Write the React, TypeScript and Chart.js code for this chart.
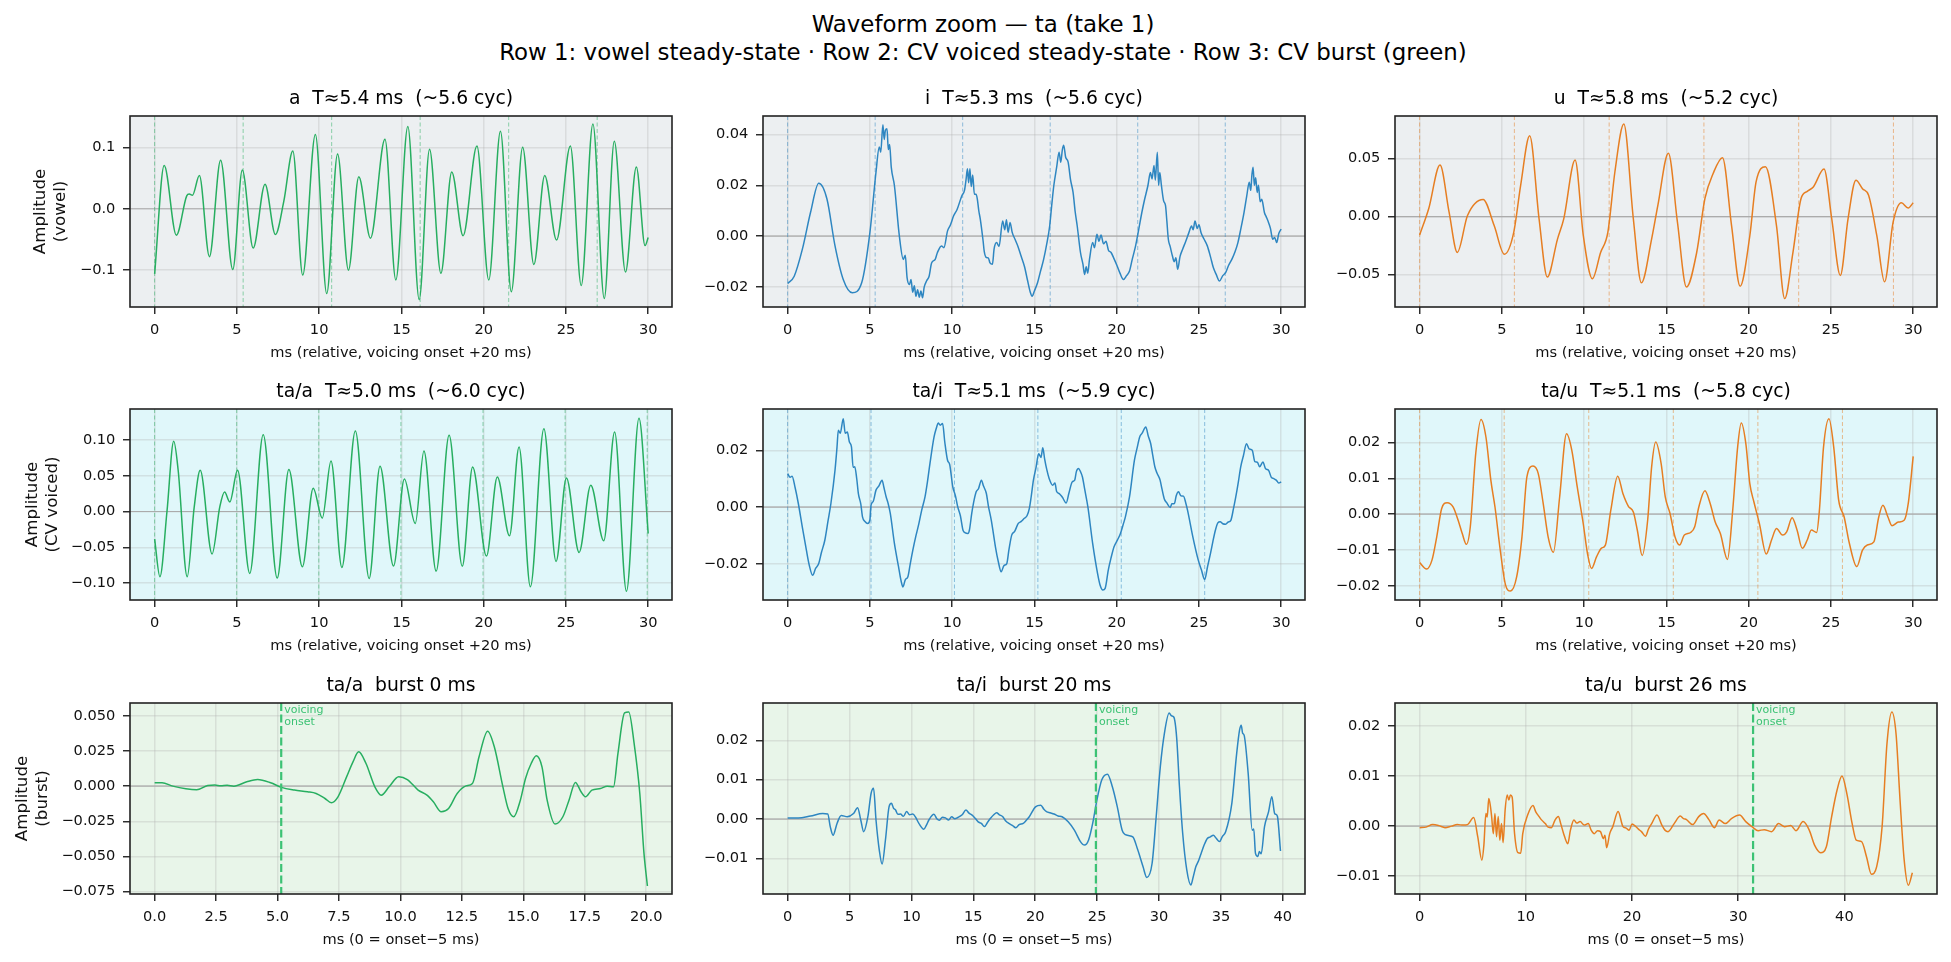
import React, { useEffect, useRef } from "react";
import { Chart, registerables } from "chart.js";

Chart.register(...registerables);

type Pt = [number, number];

const FONT = "'DejaVu Sans', 'Liberation Sans', sans-serif";
Chart.defaults.font.family = FONT;

// ---- waveform samples: [ms, amplitude] ----
const vowelA: Pt[] = [
  [0, -0.106], [0.58, 0.0705], [1.32, -0.043], [1.95, 0.021], [2.1, 0.024], [2.3, 0.022], [2.72, 0.054],
  [3.33, -0.078], [4.01, 0.079], [4.75, -0.099], [5.33, 0.063], [5.99, -0.064], [6.71, 0.04], [7.34, -0.042],
  [7.85, 0.012], [8.4, 0.094], [9.0, -0.108], [9.77, 0.121], [10.46, -0.138], [11.12, 0.089], [11.78, -0.1],
  [12.41, 0.052], [13.12, -0.048], [14.0, 0.113], [14.66, -0.116], [15.39, 0.134], [16.08, -0.148],
  [16.71, 0.097], [17.4, -0.105], [18.06, 0.06], [18.75, -0.044], [19.59, 0.102], [20.31, -0.116],
  [21.02, 0.126], [21.68, -0.135], [22.37, 0.1], [23.05, -0.091], [23.71, 0.054], [24.43, -0.051],
  [25.27, 0.102], [25.93, -0.125], [26.64, 0.138], [27.33, -0.146], [27.94, 0.11], [28.62, -0.103],
  [29.28, 0.068], [29.81, -0.06], [30.0, -0.047],
];

const vowelI: Pt[] = [
  [0, -0.0186], [0.4, -0.0157], [0.9, -0.005], [1.39, 0.0093], [1.89, 0.0208], [2.39, 0.0146], [2.88, -0.0038],
  [3.38, -0.017], [3.93, -0.0222], [4.5, -0.0183], [5.0, 0.0014], [5.37, 0.0251], [5.57, 0.035], [5.66, 0.033],
  [5.79, 0.0438], [5.87, 0.038], [5.94, 0.0415], [6.04, 0.0422], [6.12, 0.034], [6.2, 0.036], [6.3, 0.027],
  [6.49, 0.0199], [6.79, 0.0001], [7.03, -0.0091], [7.15, -0.0075], [7.26, -0.0163], [7.4, -0.019],
  [7.5, -0.017], [7.6, -0.022], [7.7, -0.0195], [7.8, -0.0236], [7.9, -0.021], [8.0, -0.024], [8.1, -0.0215],
  [8.2, -0.0242], [8.3, -0.02], [8.45, -0.0175], [8.6, -0.0157], [8.75, -0.0105], [8.97, -0.0091],
  [9.1, -0.0065], [9.35, -0.0038], [9.5, -0.0045], [9.72, 0.0021], [9.9, 0.0045], [10.09, 0.008],
  [10.3, 0.0105], [10.59, 0.0159], [10.75, 0.018], [10.85, 0.0225], [10.93, 0.0265], [11.0, 0.021],
  [11.08, 0.0265], [11.16, 0.0195], [11.25, 0.024], [11.35, 0.0165], [11.45, 0.0165], [11.53, 0.0146],
  [11.62, 0.01], [11.71, 0.0067], [11.88, -0.0018], [11.95, -0.006], [12.08, -0.0084], [12.2, -0.0085],
  [12.3, -0.0105], [12.45, -0.011], [12.55, -0.005], [12.7, -0.0025], [12.85, -0.004], [13.07, 0.006],
  [13.2, 0.0025], [13.3, 0.0065], [13.4, 0.0015], [13.52, 0.0054], [13.65, 0.0015], [13.82, -0.0012],
  [14.0, -0.004], [14.19, -0.0078], [14.4, -0.012], [14.57, -0.017], [14.75, -0.022], [14.86, -0.0236],
  [15.0, -0.0215], [15.19, -0.0183], [15.36, -0.014], [15.56, -0.0091], [15.75, -0.003], [15.93, 0.0041],
  [16.05, 0.012], [16.18, 0.0199], [16.35, 0.027], [16.5, 0.033], [16.6, 0.029], [16.7, 0.034],
  [16.78, 0.0357], [16.9, 0.031], [17.05, 0.0291], [17.2, 0.022], [17.35, 0.0172], [17.48, 0.0095],
  [17.6, 0.0041], [17.8, -0.0064], [17.95, -0.011], [18.05, -0.015], [18.15, -0.012], [18.24, -0.0145],
  [18.35, -0.009], [18.54, -0.0025], [18.65, -0.0045], [18.8, 0.0008], [18.92, -0.002], [19.05, 0.0005],
  [19.2, -0.003], [19.35, -0.002], [19.5, -0.0055], [19.66, -0.0064], [19.85, -0.009], [20.03, -0.0117],
  [20.2, -0.0145], [20.41, -0.017], [20.6, -0.0155], [20.78, -0.0137], [20.95, -0.009], [21.15, -0.0038],
  [21.35, 0.003], [21.53, 0.0093], [21.7, 0.0145], [21.9, 0.0199], [22.05, 0.025], [22.15, 0.0225],
  [22.27, 0.0278], [22.35, 0.022], [22.47, 0.033], [22.55, 0.02], [22.62, 0.025], [22.72, 0.0199],
  [22.85, 0.014], [22.97, 0.012], [23.05, 0.006], [23.14, -0.0012], [23.25, -0.004], [23.39, -0.0078],
  [23.5, -0.01], [23.6, -0.0085], [23.71, -0.013], [23.85, -0.008], [24.01, -0.0051], [24.2, -0.002],
  [24.39, 0.0014], [24.55, 0.004], [24.65, 0.0025], [24.76, 0.006], [24.9, 0.003], [25.0, 0.0045],
  [25.13, 0.0014], [25.3, -0.001], [25.51, -0.0038], [25.7, -0.008], [25.88, -0.0124], [26.05, -0.015],
  [26.25, -0.0176], [26.45, -0.0155], [26.62, -0.0143], [26.8, -0.0115], [27.0, -0.0091], [27.2, -0.006],
  [27.37, -0.0025], [27.55, 0.003], [27.74, 0.0093], [27.9, 0.0155], [28.06, 0.0212], [28.15, 0.018],
  [28.22, 0.024], [28.29, 0.0271], [28.37, 0.02], [28.45, 0.023], [28.54, 0.0172], [28.62, 0.02],
  [28.72, 0.0135], [28.82, 0.0145], [28.98, 0.0093], [29.1, 0.0075], [29.23, 0.0054], [29.35, 0.003],
  [29.48, -0.0012], [29.6, -0.0005], [29.73, -0.0025], [29.85, 0.001], [30.0, 0.0028],
];

const vowelU: Pt[] = [
  [0, -0.016], [0.55, 0.0067], [1.24, 0.0445], [1.79, 0.0038], [2.29, -0.031], [2.91, 0.0009], [3.86, 0.0148],
  [4.53, -0.0078], [5.15, -0.0326], [5.72, -0.0137], [6.14, 0.027], [6.69, 0.0698], [7.26, -0.002],
  [7.76, -0.0523], [8.38, -0.0195], [8.76, -0.002], [9.45, 0.0488], [9.95, -0.0166], [10.5, -0.0538],
  [11.0, -0.0311], [11.44, -0.0137], [11.87, 0.0387], [12.41, 0.0799], [12.99, -0.002], [13.48, -0.0573],
  [14.1, -0.0195], [14.48, 0.0096], [15.12, 0.0547], [15.67, -0.0049], [16.22, -0.061], [16.84, -0.0311],
  [17.34, 0.0154], [17.84, 0.0372], [18.41, 0.0509], [18.96, -0.0078], [19.48, -0.0602], [20.07, -0.0166],
  [20.45, 0.0299], [21.02, 0.043], [21.69, -0.0078], [22.19, -0.0709], [22.69, -0.0311], [23.18, 0.0154],
  [23.56, 0.0218], [23.93, 0.0256], [24.58, 0.041], [25.05, -0.002], [25.57, -0.0509], [26.04, -0.002],
  [26.52, 0.0314], [26.92, 0.0241], [27.29, 0.0183], [27.79, -0.0166], [28.26, -0.0564], [28.78, -0.0049],
  [29.28, 0.0119], [29.7, 0.0073], [30.0, 0.0119],
];

const cvA: Pt[] = [
  [0, -0.0386], [0.32, -0.0912], [0.75, 0.0], [1.16, 0.0981], [1.43, 0.0577], [1.98, -0.0912], [2.4, 0.005],
  [2.77, 0.0577], [3.49, -0.0595], [3.96, 0.0065], [4.25, 0.0274], [4.57, 0.0135], [5.04, 0.0577],
  [5.78, -0.0865], [6.6, 0.1074], [7.45, -0.093], [8.16, 0.0586], [8.98, -0.0772], [9.64, 0.0326],
  [10.19, -0.0093], [10.72, 0.0707], [11.38, -0.0781], [12.2, 0.1126], [13.04, -0.0935], [13.7, 0.0633],
  [14.52, -0.0763], [15.18, 0.0456], [15.84, -0.0167], [16.37, 0.0847], [17.11, -0.0833], [17.9, 0.1065],
  [18.7, -0.0763], [19.33, 0.0623], [20.17, -0.0623], [20.83, 0.0484], [21.57, -0.034], [22.15, 0.0902],
  [22.84, -0.1051], [23.66, 0.1158], [24.4, -0.0698], [25.03, 0.047], [25.8, -0.0572], [26.51, 0.0367],
  [27.3, -0.0409], [27.96, 0.1112], [28.68, -0.1116], [29.44, 0.1302], [30.0, -0.0307],
];

const cvI: Pt[] = [
  [0, 0.0118], [0.15, 0.0105], [0.27, 0.0109], [0.45, 0.007], [0.65, 0.0013], [0.89, -0.0069],
  [1.14, -0.0151], [1.3, -0.02], [1.52, -0.0239], [1.7, -0.0215], [1.89, -0.0198], [2.05, -0.016],
  [2.26, -0.0116], [2.45, -0.005], [2.63, 0.0013], [2.88, 0.013], [3.0, 0.021], [3.08, 0.027], [3.2, 0.026],
  [3.38, 0.0311], [3.5, 0.026], [3.63, 0.0264], [3.75, 0.023], [3.88, 0.0212], [3.98, 0.014], [4.08, 0.0142],
  [4.2, 0.01], [4.3, 0.0048], [4.45, 0.001], [4.55, -0.0034], [4.7, -0.005], [4.87, -0.0057], [5.0, -0.0045],
  [5.07, 0.0007], [5.2, 0.002], [5.37, 0.006], [5.55, 0.0075], [5.74, 0.0095], [5.85, 0.007], [5.99, 0.0036],
  [6.1, 0.0015], [6.24, -0.0022], [6.49, -0.0127], [6.74, -0.0209], [6.9, -0.026], [7.01, -0.028],
  [7.15, -0.0255], [7.31, -0.0244], [7.45, -0.02], [7.61, -0.0151], [7.8, -0.01], [7.98, -0.0057],
  [8.15, -0.001], [8.35, 0.0036], [8.5, 0.009], [8.65, 0.0153], [8.9, 0.0247], [9.05, 0.028],
  [9.15, 0.0296], [9.28, 0.0288], [9.42, 0.0294], [9.55, 0.023], [9.72, 0.0165], [9.85, 0.015],
  [10.04, 0.0071], [10.2, 0.004], [10.34, 0.0001], [10.5, -0.003], [10.66, -0.0081], [10.8, -0.009],
  [10.96, -0.0092], [11.05, -0.008], [11.19, -0.0022], [11.3, 0.0015], [11.46, 0.0054], [11.6, 0.0065],
  [11.78, 0.0095], [11.9, 0.0075], [12.08, 0.0048], [12.2, 0.0005], [12.38, -0.0046], [12.5, -0.009],
  [12.63, -0.0139], [12.8, -0.019], [12.98, -0.0227], [13.15, -0.0205], [13.32, -0.0198], [13.45, -0.015],
  [13.62, -0.0098], [13.8, -0.0085], [14.02, -0.0057], [14.2, -0.005], [14.37, -0.004], [14.55, -0.003],
  [14.69, -0.0005], [14.8, 0.0035], [14.94, 0.0095], [15.1, 0.014], [15.26, 0.0188], [15.4, 0.0175],
  [15.51, 0.0209], [15.62, 0.017], [15.76, 0.013], [15.9, 0.01], [16.11, 0.0077], [16.25, 0.0085],
  [16.35, 0.0055], [16.51, 0.0048], [16.7, 0.0035], [16.93, 0.0015], [17.1, 0.005], [17.3, 0.0089],
  [17.45, 0.0095], [17.55, 0.0125], [17.68, 0.0136], [17.8, 0.0125], [17.92, 0.0106], [18.05, 0.0065],
  [18.25, 0.0001], [18.54, -0.0127], [18.84, -0.0233], [19.0, -0.0275], [19.16, -0.0291], [19.3, -0.0285],
  [19.49, -0.0221], [19.65, -0.018], [19.84, -0.0139], [20.05, -0.0115], [20.23, -0.0092], [20.4, -0.006],
  [20.53, -0.0034], [20.78, 0.0036], [21.08, 0.0165], [21.25, 0.021], [21.4, 0.0247], [21.55, 0.026],
  [21.77, 0.0282], [21.92, 0.025], [22.07, 0.0223], [22.2, 0.018], [22.32, 0.0142], [22.45, 0.012],
  [22.64, 0.0095], [22.75, 0.0065], [22.89, 0.003], [23.05, 0.0015], [23.26, -0.0001], [23.35, 0.0012],
  [23.51, 0.0013], [23.62, 0.004], [23.76, 0.0054], [23.9, 0.004], [24.06, 0.0039], [24.2, 0.0015],
  [24.31, -0.0011], [24.63, -0.0104], [24.96, -0.0186], [25.15, -0.022], [25.35, -0.0254],
  [25.52, -0.021], [25.7, -0.0163], [25.85, -0.012], [26.0, -0.0081], [26.15, -0.0055], [26.29, -0.0051],
  [26.45, -0.0058], [26.62, -0.006], [26.78, -0.0052], [26.94, -0.0046], [27.1, -0.0005], [27.24, 0.0036],
  [27.4, 0.009], [27.54, 0.0142], [27.7, 0.018], [27.89, 0.0223], [28.05, 0.0205], [28.24, 0.02],
  [28.4, 0.016], [28.55, 0.0158], [28.69, 0.0142], [28.89, 0.0159], [29.05, 0.0135], [29.23, 0.013],
  [29.4, 0.0105], [29.53, 0.0101], [29.7, 0.0095], [29.85, 0.0085], [30.0, 0.0089],
];

const cvU: Pt[] = [
  [0, -0.0135], [0.42, -0.0153], [0.75, -0.0128], [1.04, -0.0063], [1.34, 0.0016], [1.67, 0.0032],
  [2.04, 0.002], [2.34, -0.0017], [2.59, -0.0054], [2.84, -0.0084], [3.08, -0.0035], [3.41, 0.0169],
  [3.73, 0.0264], [4.03, 0.0215], [4.33, 0.0094], [4.58, 0.002], [4.9, -0.01], [5.22, -0.0197],
  [5.52, -0.0214], [5.9, -0.0174], [6.22, -0.0063], [6.52, 0.0104], [6.89, 0.0134], [7.21, 0.0113],
  [7.51, 0.003], [7.81, -0.0063], [8.13, -0.0106], [8.51, 0.0048], [8.93, 0.0224], [9.25, 0.0178],
  [9.58, 0.0076], [9.95, -0.0028], [10.2, -0.0109], [10.45, -0.0151], [10.75, -0.0119], [11.04, -0.0095],
  [11.29, -0.0086], [11.62, 0.0011], [12.04, 0.0106], [12.36, 0.0057], [12.69, 0.0022], [12.99, 0.0006],
  [13.23, -0.0044], [13.53, -0.0115], [13.86, -0.0017], [14.1, 0.0131], [14.35, 0.0201], [14.68, 0.0141],
  [14.93, 0.0048], [15.22, 0.0002], [15.52, -0.0063], [15.8, -0.0086], [16.09, -0.0058], [16.47, -0.0051],
  [16.72, -0.0035], [16.97, 0.002], [17.34, 0.0065], [17.66, 0.003], [17.96, -0.0021], [18.28, -0.0054],
  [18.71, -0.0126], [19.03, 0.0011], [19.33, 0.0187], [19.55, 0.0254], [19.83, 0.0196], [20.07, 0.0085],
  [20.32, 0.0034], [20.65, -0.0026], [21.07, -0.0111], [21.39, -0.0072], [21.69, -0.004], [22.06, -0.0058],
  [22.31, -0.0049], [22.64, -0.001], [22.94, -0.0044], [23.26, -0.0095], [23.56, -0.0072], [23.81, -0.0044],
  [24.13, -0.0051], [24.3, 0.0011], [24.55, 0.0187], [24.88, 0.0266], [25.17, 0.0187], [25.47, 0.0039],
  [25.8, -0.0007], [26.12, -0.0081], [26.57, -0.0146], [26.92, -0.01], [27.21, -0.0086], [27.61, -0.0077],
  [27.91, -0.0007], [28.16, 0.0025], [28.46, -0.0007], [28.71, -0.0032], [29.1, -0.0022], [29.45, -0.0017],
  [29.7, 0.003], [30.0, 0.0161],
];

const burstA: Pt[] = [
  [0, 0.0024], [0.3, 0.0024], [0.74, 0.0], [1.27, -0.0019], [1.71, -0.0026], [2.16, 0.0005], [2.45, 0.0008],
  [2.69, 0.0002], [2.95, 0.0006], [3.22, 0.0], [3.75, 0.0031], [4.19, 0.0047], [4.72, 0.0024],
  [5.16, -0.0009], [5.69, -0.0028], [6.22, -0.004], [6.57, -0.0052], [6.93, -0.0088], [7.19, -0.0118],
  [7.46, -0.0076], [7.81, 0.0066], [8.07, 0.0173], [8.3, 0.0244], [8.6, 0.0161], [8.96, -0.0005],
  [9.22, -0.0064], [9.54, -0.0005], [9.93, 0.0066], [10.28, 0.0047], [10.72, -0.0028], [11.08, -0.0064],
  [11.34, -0.0111], [11.66, -0.0182], [11.96, -0.0159], [12.31, -0.0052], [12.67, 0.0002], [12.93, 0.0019],
  [13.2, 0.0209], [13.55, 0.0391], [13.82, 0.028], [14.17, -0.0005], [14.38, -0.0159], [14.61, -0.0218],
  [14.88, -0.01], [15.09, 0.0055], [15.32, 0.0161], [15.53, 0.0216], [15.76, 0.0137], [15.97, -0.01],
  [16.29, -0.027], [16.61, -0.0218], [16.86, -0.01], [17.12, 0.0026], [17.35, -0.004], [17.53, -0.0076],
  [17.79, -0.0028], [18.14, -0.0017], [18.41, 0.0], [18.67, -0.0005], [18.85, 0.0232], [19.12, 0.0521],
  [19.29, 0.0528], [19.51, 0.0303], [19.74, -0.0052], [19.91, -0.0479], [20.05, -0.0711],
];

const burstI: Pt[] = [
  [0, 0.0003], [0.86, 0.0003], [1.85, 0.0008], [2.84, 0.0014], [3.24, 0.0013], [3.44, -0.0019],
  [3.67, -0.0041], [3.99, -0.0011], [4.33, 0.0009], [4.82, 0.0006], [5.32, 0.0014], [5.65, 0.0029],
  [5.91, -0.0003], [6.14, -0.0032], [6.48, 0.0006], [6.74, 0.0065], [6.94, 0.0078], [7.14, -0.0003],
  [7.4, -0.0078], [7.63, -0.0114], [7.9, -0.0053], [8.19, 0.0031], [8.39, 0.004], [8.55, 0.0028],
  [8.72, 0.0023], [8.9, 0.0012], [9.12, 0.0013], [9.35, 0.0007], [9.61, 0.0019], [9.85, 0.0011],
  [10.11, 0.0013], [10.35, 0.0004], [10.6, -0.0011], [11.0, -0.0026], [11.2, -0.0016], [11.43, -0.0001],
  [11.82, 0.0012], [12.05, 0.0001], [12.26, -0.0003], [12.5, 0.0005], [12.75, 0.0003], [13.0, -0.0002],
  [13.25, 0.0006], [13.5, 0.0001], [13.74, 0.0004], [14.1, 0.0011], [14.4, 0.0023], [14.65, 0.0015],
  [14.9, 0.001], [15.15, 0.0002], [15.39, -0.0007], [15.65, -0.0011], [15.89, -0.0019], [16.15, -0.0008],
  [16.39, 0.0002], [16.65, 0.0011], [16.88, 0.0016], [17.1, 0.0011], [17.38, 0.0006], [17.6, -0.0004],
  [17.87, -0.0011], [18.15, -0.0016], [18.43, -0.0022], [18.7, -0.0014], [19.03, -0.0011], [19.25, -0.0004],
  [19.52, 0.0006], [20.02, 0.0031], [20.45, 0.0035], [20.7, 0.0025], [20.91, 0.0019], [21.2, 0.0016],
  [21.51, 0.0013], [21.85, 0.0008], [22.17, 0.0006], [22.66, -0.0007], [23.16, -0.0028], [23.65, -0.0057],
  [23.98, -0.0066], [24.31, -0.0053], [24.64, -0.0011], [24.98, 0.0048], [25.37, 0.0099], [25.83, 0.0114],
  [26.23, 0.0082], [26.63, 0.0031], [27.02, -0.0028], [27.45, -0.0041], [27.88, -0.0045], [28.28, -0.0078],
  [28.71, -0.0121], [29.01, -0.0148], [29.44, -0.0112], [29.77, 0.0006], [30.1, 0.0132], [30.43, 0.0217],
  [30.82, 0.0269], [31.0, 0.0262], [31.19, 0.0259], [31.42, 0.0208], [31.65, 0.0082], [31.91, -0.0036],
  [32.24, -0.0129], [32.57, -0.0167], [32.75, -0.0148], [32.97, -0.0121], [33.2, -0.0105], [33.4, -0.0087],
  [33.65, -0.0065], [33.9, -0.0049], [34.15, -0.0045], [34.39, -0.0041], [34.6, -0.0048], [34.89, -0.0057],
  [35.1, -0.0045], [35.38, -0.0032], [35.88, 0.004], [36.27, 0.0166], [36.5, 0.0225], [36.64, 0.0238],
  [36.75, 0.0218], [36.87, 0.0213], [37.2, 0.0116], [37.53, -0.0028], [37.65, -0.0025], [37.79, -0.0087],
  [37.99, -0.0095], [38.1, -0.0082], [38.25, -0.0088], [38.52, -0.0019], [38.85, 0.0019], [39.11, 0.0057],
  [39.34, 0.0014], [39.45, 0.0012], [39.57, 0.0006], [39.81, -0.0081],
];

const burstU: Pt[] = [
  [0, -0.0003], [0.6, -0.0002], [1.23, 0.0003], [1.8, 0.0001], [2.39, -0.0003], [3.0, 0.0], [3.55, 0.0003],
  [4.1, 0.0002], [4.51, 0.0003], [5.09, 0.0017], [5.47, -0.0021], [5.86, -0.0068], [6.05, -0.0038],
  [6.24, 0.0025], [6.36, 0.0018], [6.51, 0.0055], [6.67, 0.0039], [6.78, 0.0019], [6.94, -0.0015],
  [7.09, 0.0025], [7.24, -0.0021], [7.4, 0.0019], [7.55, -0.0028], [7.71, 0.0005], [7.86, -0.0033],
  [8.05, 0.0032], [8.25, 0.0062], [8.4, 0.0052], [8.55, 0.0062], [8.71, 0.0058], [8.94, -0.0015],
  [9.25, -0.0053], [9.52, -0.0054], [9.71, -0.0015], [10.17, 0.0022], [10.67, 0.0041], [10.95, 0.0028],
  [11.25, 0.0019], [11.5, 0.0012], [11.83, 0.0005], [12.1, -0.0002], [12.41, -0.0003], [12.75, 0.0012],
  [13.06, 0.0019], [13.3, 0.0004], [13.56, -0.0015], [13.95, -0.0035], [14.2, -0.0008], [14.53, 0.0012],
  [14.8, 0.0006], [15.11, 0.0009], [15.5, 0.0002], [15.88, 0.0005], [16.15, -0.0008], [16.45, -0.0015],
  [16.75, -0.0009], [17.03, -0.0011], [17.3, -0.0025], [17.45, -0.0018], [17.61, -0.0043], [17.9, -0.0015],
  [18.19, -0.0001], [18.69, 0.0029], [19.15, -0.0001], [19.45, -0.0004], [19.73, -0.0008], [20.0, 0.0004],
  [20.31, 0.0], [20.6, -0.0006], [20.89, -0.0011], [21.27, -0.002], [21.55, -0.0006], [21.85, 0.0005],
  [22.35, 0.0022], [22.81, 0.0002], [23.1, -0.0008], [23.39, -0.0011], [23.97, 0.0005], [24.55, 0.002],
  [24.85, 0.0015], [25.13, 0.0013], [25.7, 0.0003], [26.28, 0.0019], [26.74, 0.0025], [27.24, 0.0013],
  [27.75, -0.0003], [28.21, 0.0012], [28.79, 0.0005], [29.36, 0.0015], [30.13, 0.0022], [30.71, 0.0009],
  [31.29, -0.0001], [31.87, -0.0009], [32.45, -0.0007], [33.14, -0.0011], [33.8, 0.0005], [34.37, -0.0001],
  [34.95, 0.0001], [35.45, -0.0009], [36.11, 0.0009], [36.69, -0.0008], [37.19, -0.0038], [37.76, -0.0053],
  [38.3, -0.0041], [38.8, 0.0019], [39.31, 0.0072], [39.77, 0.01], [40.23, 0.0065], [40.73, 0.0005],
  [41.12, -0.0028], [41.62, -0.0031], [42.08, -0.0061], [42.54, -0.0096], [43.04, -0.0081], [43.55, -0.0001],
  [44.01, 0.0165], [44.47, 0.0228], [44.86, 0.0185], [45.24, 0.0052], [45.63, -0.0068], [46.02, -0.0118],
  [46.4, -0.0093],
];

// estimated glottal periods (ms) per steady-state window, row 1 then row 2
const periodsVowel = [5.38, 5.32, 5.76];
const periodsCV = [4.99, 5.07, 5.14];
// burst time (ms) per CV token, relative to the window start minus 5 ms
const burstMs = [0.15, 19.9, 26.4];
const WINDOW_MS = 30;

const vowels = ["a", "i", "u"];
const cvTokens = ["ta/a", "ta/i", "ta/u"];

const xTicksSteady = [0, 5, 10, 15, 20, 25, 30];
const xTicksBurst = [
  [0, 2.5, 5, 7.5, 10, 12.5, 15, 17.5, 20],
  [0, 5, 10, 15, 20, 25, 30, 35, 40],
  [0, 10, 20, 30, 40],
];

const yTicksVowel = [[-0.1, 0, 0.1], [-0.02, 0, 0.02, 0.04], [-0.05, 0, 0.05]];
const yTicksCV = [[-0.1, -0.05, 0, 0.05, 0.1], [-0.02, 0, 0.02], [-0.02, -0.01, 0, 0.01, 0.02]];
const yTicksBurst = [[-0.075, -0.05, -0.025, 0, 0.025, 0.05], [-0.01, 0, 0.01, 0.02], [-0.01, 0, 0.01, 0.02]];

const yLimVowel: Pt[] = [[-0.16, 0.151], [-0.0278, 0.0472], [-0.0782, 0.0869]];
const yLimCV: Pt[] = [[-0.1237, 0.1433], [-0.0326, 0.0345], [-0.0239, 0.0293]];
const yLimBurst: Pt[] = [[-0.0768, 0.0592], [-0.019, 0.02945], [-0.01355, 0.02458]];
const xLimBurst: Pt[] = [[-1.0025, 21.05], [-1.99, 41.79], [-2.32, 48.72]];
const xLimSteady: Pt = [-1.4975, 31.4475];

// ---- styling ----
const SERIES_COLORS = ["#27ae60", "#2e86c1", "#e67e22"];
const ONSET_COLOR = "#3cc274";
const ROW_BG = ["#eceff1", "#e0f7fa", "#e8f5e9"];
const ROW_YLABEL = [["Amplitude", "(vowel)"], ["Amplitude", "(CV voiced)"], ["Amplitude", "(burst)"]];
const ROW_XLABEL = ["ms (relative, voicing onset +20 ms)", "ms (relative, voicing onset +20 ms)", "ms (0 = onset\u22125 ms)"];

const COL_LEFT = [130, 763, 1395];
const ROW_TOP = [116, 409, 703];
const PLOT_W = 542;
const PLOT_H = 191;
const PAD_L = 128;
const PAD_R = 10;
const PAD_T = 42;
const PAD_B = 64;
const YLABEL_X = [41, 32.5, 22.5];

interface PanelSpec {
  key: string;
  row: number;
  col: number;
  title: string;
  data: Pt[];
  color: string;
  xLim: Pt;
  yLim: Pt;
  xTicks: number[];
  yTicks: number[];
  xDec: number;
  yDec: number;
  marks: number[];
  onset: number | null;
}

function periodMarks(T: number): number[] {
  const out: number[] = [];
  for (let k = 0; k * T <= WINDOW_MS + 1e-9; k++) out.push(k * T);
  return out;
}

function fmt(v: number, d: number): string {
  const s = Math.abs(v) < 1e-12 ? (0).toFixed(d) : v.toFixed(d);
  return s.replace("-", "\u2212");
}

function withAlpha(hex: string, a: number): string {
  const n = parseInt(hex.slice(1), 16);
  return `rgba(${(n >> 16) & 255},${(n >> 8) & 255},${n & 255},${a})`;
}

const steadyData = [[vowelA, vowelI, vowelU], [cvA, cvI, cvU]];
const yDecVowel = [1, 2, 2];
const yDecCV = [2, 2, 2];
const yDecBurst = [3, 2, 2];

const panels: PanelSpec[] = [];
for (let c = 0; c < 3; c++) {
  const T = periodsVowel[c];
  panels.push({
    key: `v${c}`, row: 0, col: c,
    title: `${vowels[c]}  T\u2248${T.toFixed(1)} ms  (~${(WINDOW_MS / T).toFixed(1)} cyc)`,
    data: steadyData[0][c], color: SERIES_COLORS[c], xLim: xLimSteady, yLim: yLimVowel[c],
    xTicks: xTicksSteady, yTicks: yTicksVowel[c], xDec: 0, yDec: yDecVowel[c], marks: periodMarks(T), onset: null,
  });
}
for (let c = 0; c < 3; c++) {
  const T = periodsCV[c];
  panels.push({
    key: `cv${c}`, row: 1, col: c,
    title: `${cvTokens[c]}  T\u2248${T.toFixed(1)} ms  (~${(WINDOW_MS / T).toFixed(1)} cyc)`,
    data: steadyData[1][c], color: SERIES_COLORS[c], xLim: xLimSteady, yLim: yLimCV[c],
    xTicks: xTicksSteady, yTicks: yTicksCV[c], xDec: 0, yDec: yDecCV[c], marks: periodMarks(T), onset: null,
  });
}
const burstData = [burstA, burstI, burstU];
for (let c = 0; c < 3; c++) {
  panels.push({
    key: `b${c}`, row: 2, col: c,
    title: `${cvTokens[c]}  burst ${Math.round(burstMs[c])} ms`,
    data: burstData[c], color: SERIES_COLORS[c], xLim: xLimBurst[c], yLim: yLimBurst[c],
    xTicks: xTicksBurst[c], yTicks: yTicksBurst[c], xDec: c === 0 ? 1 : 0, yDec: yDecBurst[c],
    marks: [], onset: burstMs[c] + 5,
  });
}

const CANVAS_W = PAD_L + PLOT_W + PAD_R;
const CANVAS_H = PAD_T + PLOT_H + PAD_B;

function WavePanel({ p }: { p: PanelSpec }) {
  const ref = useRef<HTMLCanvasElement>(null);
  const canvasLeft = COL_LEFT[p.col] - PAD_L;

  useEffect(() => {
    const canvas = ref.current;
    if (!canvas) return;

    const decor = {
      id: "panelDecor",
      beforeDraw(chart: any) {
        const { ctx, chartArea: a } = chart;
        ctx.save();
        ctx.fillStyle = ROW_BG[p.row];
        ctx.fillRect(a.left, a.top, a.right - a.left, a.bottom - a.top);
        ctx.restore();
      },
      beforeDatasetsDraw(chart: any) {
        const { ctx, chartArea: a, scales } = chart;
        ctx.save();
        ctx.beginPath();
        ctx.rect(a.left, a.top, a.right - a.left, a.bottom - a.top);
        ctx.clip();
        const y0 = scales.y.getPixelForValue(0);
        ctx.strokeStyle = "#ababab";
        ctx.lineWidth = 1.2;
        ctx.beginPath();
        ctx.moveTo(a.left, y0);
        ctx.lineTo(a.right, y0);
        ctx.stroke();
        if (p.marks.length) {
          ctx.strokeStyle = withAlpha(p.color, 0.5);
          ctx.lineWidth = 1;
          ctx.setLineDash([4, 2.5]);
          for (const m of p.marks) {
            const px = scales.x.getPixelForValue(m);
            ctx.beginPath();
            ctx.moveTo(px, a.top);
            ctx.lineTo(px, a.bottom);
            ctx.stroke();
          }
        }
        ctx.restore();
      },
      afterDatasetsDraw(chart: any) {
        if (p.onset === null) return;
        const { ctx, chartArea: a, scales } = chart;
        const px = scales.x.getPixelForValue(p.onset);
        ctx.save();
        ctx.strokeStyle = ONSET_COLOR;
        ctx.lineWidth = 2.2;
        ctx.setLineDash([8, 3.5]);
        ctx.beginPath();
        ctx.moveTo(px, a.top);
        ctx.lineTo(px, a.bottom);
        ctx.stroke();
        ctx.setLineDash([]);
        ctx.fillStyle = ONSET_COLOR;
        ctx.font = `11px ${FONT}`;
        ctx.textAlign = "left";
        ctx.textBaseline = "alphabetic";
        ctx.fillText("voicing", px + 3, a.top + 9.5);
        ctx.fillText("onset", px + 3, a.top + 21.5);
        ctx.restore();
      },
      afterDraw(chart: any) {
        const { ctx, chartArea: a } = chart;
        ctx.save();
        ctx.strokeStyle = "#222222";
        ctx.lineWidth = 1.6;
        ctx.strokeRect(a.left, a.top, a.right - a.left, a.bottom - a.top);
        const cx = (a.left + a.right) / 2;
        ctx.fillStyle = "#000000";
        ctx.textAlign = "center";
        ctx.textBaseline = "alphabetic";
        ctx.font = `18.75px ${FONT}`;
        ctx.fillText(p.title, cx, a.top - 12.5);
        ctx.font = `14.6px ${FONT}`;
        ctx.fillStyle = "#111111";
        ctx.fillText(ROW_XLABEL[p.row], cx, a.bottom + 50);
        if (p.col === 0) {
          const lines = ROW_YLABEL[p.row];
          const cy = (a.top + a.bottom) / 2;
          ctx.font = `16.7px ${FONT}`;
          ctx.textBaseline = "middle";
          lines.forEach((ln, i) => {
            const x = YLABEL_X[p.row] + i * 20 - canvasLeft;
            ctx.save();
            ctx.translate(x, cy);
            ctx.rotate(-Math.PI / 2);
            ctx.fillText(ln, 0, 0);
            ctx.restore();
          });
        }
        ctx.restore();
      },
    };

    const gridOpts = {
      color: "rgba(176,176,176,0.3)",
      lineWidth: 1.5,
      tickColor: "#222222",
      tickWidth: 1.4,
      tickLength: 7,
      drawTicks: true,
    };
    const tickFont = { size: 14.6, family: FONT };

    const chart = new Chart(canvas, {
      type: "line",
      data: {
        datasets: [
          {
            data: p.data.map(([x, y]) => ({ x, y })),
            borderColor: p.color,
            borderWidth: 1.5,
            pointRadius: 0,
            fill: false,
            cubicInterpolationMode: "monotone",
          },
        ],
      },
      options: {
        animation: false,
        responsive: false,
        devicePixelRatio: 1,
        events: [],
        layout: { padding: { top: PAD_T, right: PAD_R, left: 0, bottom: 0 } },
        plugins: { legend: { display: false }, tooltip: { enabled: false }, title: { display: false } },
        scales: {
          x: {
            type: "linear",
            min: p.xLim[0],
            max: p.xLim[1],
            afterBuildTicks: (s: any) => {
              s.ticks = p.xTicks.map((v) => ({ value: v }));
            },
            afterFit: (s: any) => {
              s.height = PAD_B;
            },
            grid: gridOpts,
            border: { display: false },
            ticks: {
              autoSkip: false,
              maxRotation: 0,
              padding: 7.6,
              color: "#111111",
              font: tickFont,
              callback: (v: any) => fmt(Number(v), p.xDec),
            },
          },
          y: {
            type: "linear",
            min: p.yLim[0],
            max: p.yLim[1],
            afterBuildTicks: (s: any) => {
              s.ticks = p.yTicks.map((v) => ({ value: v }));
            },
            afterFit: (s: any) => {
              s.width = PAD_L;
            },
            grid: gridOpts,
            border: { display: false },
            ticks: {
              autoSkip: false,
              padding: 7.6,
              color: "#111111",
              font: tickFont,
              callback: (v: any) => fmt(Number(v), p.yDec),
            },
          },
        },
      } as any,
      plugins: [decor],
    });
    return () => chart.destroy();
  }, [p]);

  return (
    <canvas
      ref={ref}
      width={CANVAS_W}
      height={CANVAS_H}
      style={{
        position: "absolute",
        left: canvasLeft,
        top: ROW_TOP[p.row] - PAD_T,
        width: CANVAS_W,
        height: CANVAS_H,
      }}
    />
  );
}

export default function App() {
  return (
    <div
      style={{
        position: "fixed",
        left: 0,
        top: 0,
        width: 1951,
        height: 962,
        background: "#ffffff",
        overflow: "hidden",
        fontFamily: FONT,
      }}
    >
      <div
        style={{
          position: "absolute",
          left: 483,
          top: 11,
          width: 1000,
          textAlign: "center",
          fontSize: 22.9,
          lineHeight: "27.5px",
          color: "#000",
          whiteSpace: "nowrap",
        }}
      >
        <div>Waveform zoom — ta (take 1)</div>
        <div>Row 1: vowel steady-state · Row 2: CV voiced steady-state · Row 3: CV burst (green)</div>
      </div>
      {panels.map((p) => (
        <WavePanel key={p.key} p={p} />
      ))}
    </div>
  );
}
